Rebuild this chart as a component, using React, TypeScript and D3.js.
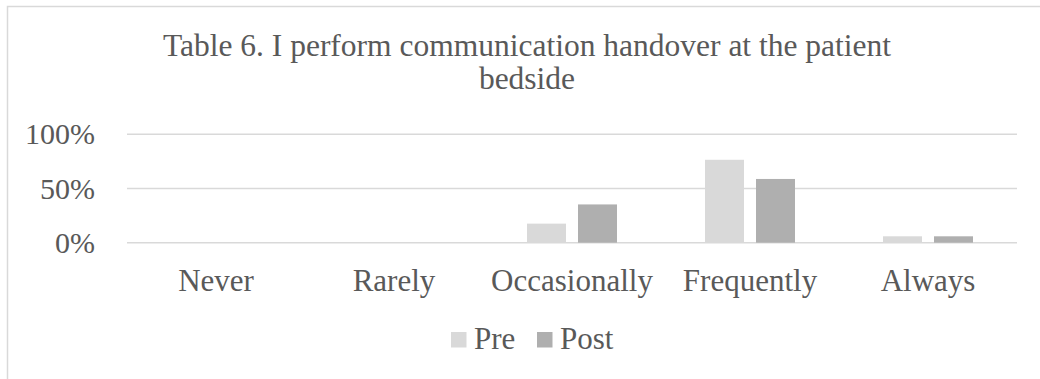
import React from "react";
import * as d3 from "d3";

// Survey responses (share of respondents)
const categories = ["Never", "Rarely", "Occasionally", "Frequently", "Always"];
const seriesNames = ["Pre", "Post"];
const preValues = [0, 0, 0.176, 0.765, 0.059];
const postValues = [0, 0, 0.353, 0.588, 0.059];
const yTicks = [0, 0.5, 1];
const titleLines = ["Table 6. I perform communication handover at the patient", "bedside"];

const seriesColors = ["#d9d9d9", "#afafaf"];
const textColor = "#595959";
const gridColor = "#d9d9d9";
const font = "'Liberation Serif', 'Times New Roman', serif";

const W = 1040;
const H = 379;
const plot = { left: 127, right: 1017, top: 134.3, bottom: 242.7 };

export default function App() {
  const x = d3.scaleBand<string>().domain(categories).range([plot.left, plot.right]).paddingInner(0).paddingOuter(0);
  const y = d3.scaleLinear().domain([0, 1]).range([plot.bottom, plot.top]);
  const barW = 39;
  const gap = 12;
  const sub = d3
    .scaleOrdinal<string, number>()
    .domain(seriesNames)
    .range([-(barW + gap / 2), gap / 2]);
  const series = [preValues, postValues];
  const fmt = d3.format(".0%");

  return (
    <svg
      width={W}
      height={H}
      style={{ position: "absolute", left: 0, top: 0, background: "#fff" }}
      fontFamily={font}
    >
      {/* chart area frame */}
      <path d={`M7.5,${H} V6.5 H${W}`} fill="none" stroke={gridColor} strokeWidth={1.5} />

      {/* title */}
      <text x={527} textAnchor="middle" fill={textColor} fontSize={31.5}>
        {titleLines.map((t, i) => (
          <tspan key={i} x={527} y={56 + i * 32.5}>
            {t}
          </tspan>
        ))}
      </text>

      {/* gridlines and y labels */}
      {yTicks.map((t) => (
        <g key={t}>
          <line x1={plot.left} x2={plot.right} y1={y(t)} y2={y(t)} stroke={gridColor} strokeWidth={1.5} />
          <text x={95} y={y(t) + 10} textAnchor="end" fill={textColor} fontSize={30}>
            {fmt(t)}
          </text>
        </g>
      ))}

      {/* bars */}
      {series.map((vals, si) =>
        categories.map((c, ci) => {
          const cx = (x(c) as number) + x.bandwidth() / 2;
          const v = vals[ci];
          if (v <= 0) return null;
          return (
            <rect
              key={`${si}-${ci}`}
              x={cx + sub(seriesNames[si])}
              y={y(v)}
              width={barW}
              height={y(0) - y(v)}
              fill={seriesColors[si]}
            />
          );
        })
      )}

      {/* x labels */}
      {categories.map((c) => (
        <text
          key={c}
          x={(x(c) as number) + x.bandwidth() / 2}
          y={291}
          textAnchor="middle"
          fill={textColor}
          fontSize={31}
        >
          {c}
        </text>
      ))}

      {/* legend */}
      {seriesNames.map((s, i) => {
        const lx = [451, 537][i];
        return (
          <g key={s}>
            <rect x={lx} y={332} width={15.5} height={15.5} fill={seriesColors[i]} />
            <text x={lx + 23} y={349.3} fill={textColor} fontSize={31}>
              {s}
            </text>
          </g>
        );
      })}
    </svg>
  );
}
